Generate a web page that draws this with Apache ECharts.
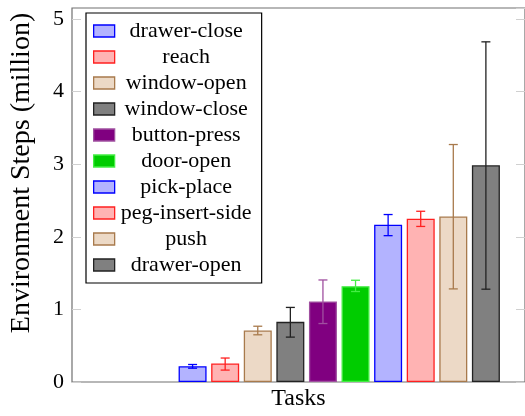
<!DOCTYPE html>
<html>
<head>
<meta charset="utf-8">
<script src="https://cdn.jsdelivr.net/npm/echarts@6/dist/echarts.min.js"></script>
<style>html,body{margin:0;padding:0;background:#fff}#c{width:525px;height:416px}</style>
</head>
<body>
<div id="c"></div>
<script>
const tasks = ['drawer-close','reach','window-open','window-close','button-press','door-open','pick-place','peg-insert-side','push','drawer-open'];
const steps = [0.218, 0.255, 0.709, 0.828, 1.109, 1.319, 2.165, 2.247, 2.278, 2.984];
const errLow = [0.19, 0.164, 0.65, 0.618, 0.805, 1.246, 2.015, 2.142, 1.282, 1.278];
const errHigh = [0.241, 0.33, 0.768, 1.027, 1.405, 1.401, 2.306, 2.351, 3.27, 4.684];
const yTicks = [0, 1, 2, 3, 4, 5];
const fills = ['#b3b3ff','#ffb3b3','#ecd9c6','#808080','#800080','#00cc00','#b3b3ff','#ffb3b3','#ecd9c6','#808080'];
const edges = ['#0000ff','#ff2020','#a87a4c','#222222','#a050a0','#44ee44','#0000ff','#ff2020','#a87a4c','#222222'];

const FONT = 'Liberation Serif, DejaVu Serif, serif';
const chart = echarts.init(document.getElementById('c'), null, {renderer: 'canvas'});

const barSeries = tasks.map((t, k) => ({
  name: t,
  type: 'bar',
  barWidth: 28,
  barGap: '-100%',
  data: [[k, steps[k]]],
  itemStyle: {color: fills[k], borderColor: edges[k], borderWidth: 1.3},
  emphasis: {disabled: true},
  animation: false,
  z: 2
}));

const errSeries = {
  type: 'custom',
  name: 'err',
  data: tasks.map((t, k) => [k, errLow[k], errHigh[k]]),
  renderItem: function (params, api) {
    const k = api.value(0);
    const lo = api.coord([k, api.value(1)]);
    const hi = api.coord([k, api.value(2)]);
    const c = edges[params.dataIndex];
    const hw = 4.5;
    const st = {stroke: c, lineWidth: 1.3};
    return {
      type: 'group',
      children: [
        {type: 'line', shape: {x1: lo[0], y1: lo[1], x2: hi[0], y2: hi[1]}, style: st},
        {type: 'line', shape: {x1: lo[0] - hw, y1: lo[1], x2: lo[0] + hw, y2: lo[1]}, style: st},
        {type: 'line', shape: {x1: hi[0] - hw, y1: hi[1], x2: hi[0] + hw, y2: hi[1]}, style: st}
      ]
    };
  },
  z: 3,
  animation: false,
  silent: true
};

const yBase = {
  type: 'value', min: 0, max: 5.15, interval: 1,
  splitLine: {show: false},
  axisLine: {show: false, onZero: false}
};

chart.setOption({
  animation: false,
  grid: {left: 72, right: 0, top: 8, bottom: 30, show: true, borderColor: '#707070', borderWidth: 1.2, backgroundColor: 'transparent'},
  xAxis: {
    type: 'value', min: -3.7, max: 10.2,
    axisLine: {show: false, onZero: false}, axisTick: {show: false}, axisLabel: {show: false}, splitLine: {show: false},
    name: 'Tasks', nameLocation: 'middle', nameGap: 5,
    nameTextStyle: {fontFamily: FONT, fontSize: 24, color: '#000'}
  },
  yAxis: [
    Object.assign({}, yBase, {
      position: 'left',
      axisTick: {show: true, inside: true, length: 9, lineStyle: {color: '#d0d0d0', width: 1}},
      axisLabel: {
        fontFamily: FONT, fontSize: 22, color: '#000', margin: 8, showMaxLabel: false,
        formatter: v => (yTicks.indexOf(v) >= 0 ? String(v) : '')
      },
      name: 'Environment Steps (million)', nameLocation: 'middle', nameGap: 36,
      nameTextStyle: {fontFamily: FONT, fontSize: 28, color: '#000', padding: [0, 0, 0, 44]}
    }),
    Object.assign({}, yBase, {
      position: 'right',
      axisTick: {show: true, inside: true, length: 9, lineStyle: {color: '#d0d0d0', width: 1}},
      axisLabel: {show: false}
    })
  ],
  legend: {
    data: tasks,
    orient: 'vertical',
    left: 86, top: 13,
    padding: [7, 9, 7, 7],
    itemWidth: 21, itemHeight: 12, itemGap: 4,
    icon: 'rect',
    borderColor: '#000', borderWidth: 1.2, backgroundColor: '#fff',
    itemStyle: {borderWidth: 1.3},
    formatter: n => '{c|' + n + '}',
    textStyle: {fontFamily: FONT, fontSize: 22, color: '#000', lineHeight: 22,
      rich: {c: {width: 133, align: 'center', fontFamily: FONT, fontSize: 22, lineHeight: 22}}},
    selectedMode: false
  },
  series: barSeries.concat([errSeries])
});
</script>
</body>
</html>
